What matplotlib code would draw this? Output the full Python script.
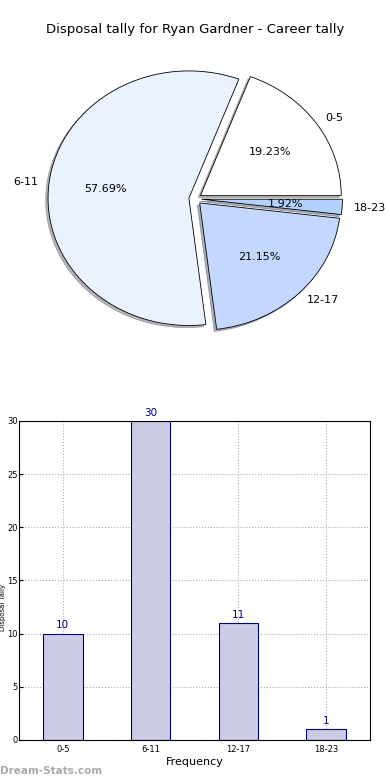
import matplotlib
matplotlib.use("Agg")
import matplotlib.pyplot as plt

categories = ["0-5", "6-11", "12-17", "18-23"]
counts = [10, 30, 11, 1]
pie_colors = ["#FFFFFF", "#EAF1FF", "#C4D8FF", "#B3D1FF"]
title = "Disposal tally for Ryan Gardner - Career tally"

fig = plt.figure(figsize=(3.9, 7.8), dpi=100)
fig.text(0.5, 1 - 30 / 780, title, ha="center", va="center", fontsize=9.5)

axp = fig.add_axes([0.049, 0.5410, 0.903, 0.408])
wedges, texts, autotexts = axp.pie(
    counts, labels=categories, colors=pie_colors, explode=[0.045] * 4,
    autopct="%.2f%%", shadow={"ox": -0.012, "oy": -0.012, "shade": 0.55}, startangle=0,
    labeldistance=1.08,
    wedgeprops=dict(edgecolor="black", linewidth=0.6),
    textprops=dict(fontsize=8))
axp.set_aspect("auto")
axp.set_xlim(-1.25, 1.25)
axp.set_ylim(-1.25, 1.25)

axb = fig.add_axes([0.0487, 0.0513, 0.9, 0.409])
x = list(range(len(categories)))
bars = axb.bar(x, counts, width=0.45, color="#CCCCE4", edgecolor="#000080", linewidth=0.8, zorder=2)
for xi, v in zip(x, counts):
    axb.text(xi, v + 0.3, str(v), ha="center", va="bottom", color="#000080", fontsize=7.5)
axb.set_xlim(-0.5, 3.5)
axb.set_ylim(0, 30)
axb.set_xticks(x)
axb.set_xticklabels(categories)
axb.set_yticks(range(0, 31, 5))
axb.tick_params(labelsize=6, direction="in", length=3)
axb.tick_params(axis="y", pad=1)
axb.grid(True, linestyle=":", color="#aaaaaa", linewidth=0.8, zorder=0)
axb.set_axisbelow(True)
axb.set_xlabel("Frequency", fontsize=8, labelpad=2)
for s in axb.spines.values():
    s.set_linewidth(0.8)
fig.text(0.0005, 1 - 607 / 780, "Disposal Tally", rotation=90, ha="left", va="center",
         fontsize=5)

fig.text(0.0, 1 - 771 / 780, "Dream-Stats.com", ha="left", va="center",
         fontsize=7.5, color="#aaaaaa", fontweight="bold")

fig.savefig("out.png", dpi=100)
